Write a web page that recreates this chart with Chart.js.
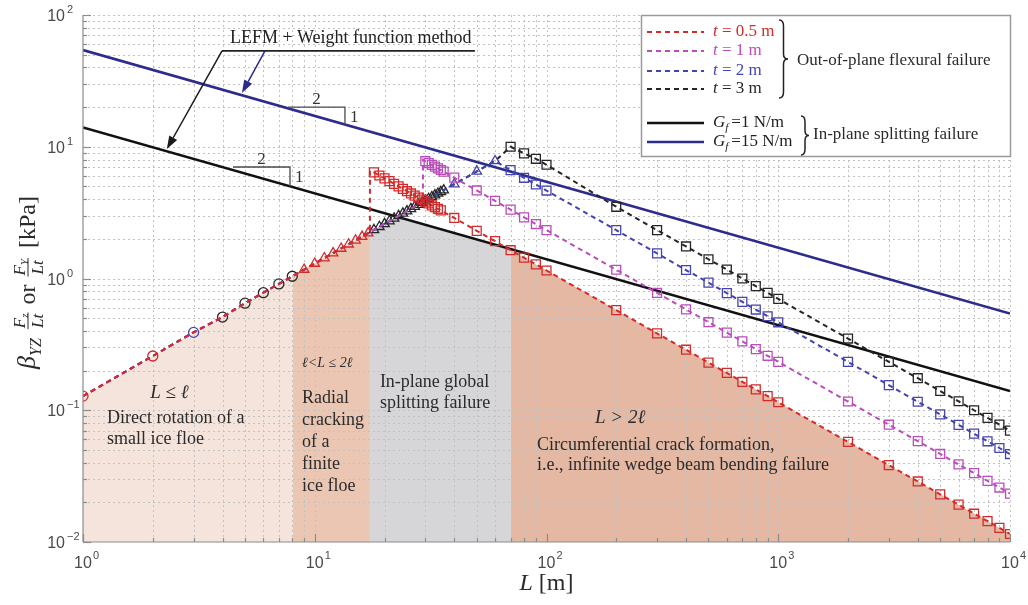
<!DOCTYPE html>
<html>
<head>
<meta charset="utf-8">
<script src="https://cdn.jsdelivr.net/npm/chart.js@4.4.1/dist/chart.umd.min.js"></script>
<style>
  html, body { margin: 0; padding: 0; background: #fff; }
  #wrap { width: 1028px; height: 605px; }
</style>
</head>
<body>
<div id="wrap"><canvas id="chart" width="1028" height="605"></canvas></div>
<script>
// --- AXES ---
const X_DECADES = [1, 10, 100, 1000, 10000];
const X_TICK_EXP = ['0', '1', '2', '3', '4'];
const Y_DECADES = [0.01, 0.1, 1, 10, 100];
const Y_TICK_EXP = ['\u22122', '\u22121', '0', '1', '2'];

// --- DATA ---
// rising branch shared by every thickness (L <= 2l)
const RISE_L = [1, 2, 3, 4, 5, 6, 7, 8, 9, 10, 11, 12, 13, 14, 15, 16, 17, 17.3,
  18, 19, 20, 21, 22, 23, 24, 25, 26, 27, 28, 29, 29.3, 30, 31, 32, 33, 34, 35, 36, 40, 50, 60];
const RISE_V = [0.128, 0.258, 0.39, 0.51, 0.65, 0.78, 0.91, 1.04, 1.17, 1.3, 1.43, 1.56, 1.69, 1.82, 1.95, 2.08, 2.21, 2.25,
  2.34, 2.47, 2.6, 2.73, 2.86, 2.99, 3.12, 3.25, 3.38, 3.51, 3.64, 3.77, 3.81, 3.9, 4.03, 4.16, 4.29, 4.42, 4.55, 4.68, 5.2, 6.5, 7.8];

// falling branches (out-of-plane flexural failure)
const RED_FALL_L = [17.3, 18, 19, 20, 21, 22, 23, 24, 25, 26, 27, 28, 29, 30, 31, 32, 33, 34, 35,
  40, 50, 60, 70, 80, 90, 100, 200, 300, 400, 500, 600, 700, 800, 900, 1000,
  2000, 3000, 4000, 5000, 6000, 7000, 8000, 9000, 10000];
const RED_FALL_V = [6.6, 6.39, 6.05, 5.75, 5.48, 5.23, 5.0, 4.79, 4.6, 4.42, 4.26, 4.11, 3.97, 3.83, 3.71, 3.59, 3.48, 3.38, 3.29,
  2.88, 2.3, 1.92, 1.64, 1.44, 1.28, 1.15, 0.575, 0.383, 0.288, 0.23, 0.192, 0.164, 0.144, 0.128, 0.115,
  0.0575, 0.0383, 0.0288, 0.023, 0.0192, 0.0164, 0.0144, 0.0128, 0.0115];

const MAG_FALL_L = [29.3, 30, 31, 32, 33, 34, 35, 36, 40, 50, 60, 70, 80, 90, 100,
  200, 300, 400, 500, 600, 700, 800, 900, 1000, 2000, 3000, 4000, 5000, 6000, 7000, 8000, 9000, 10000];
const MAG_FALL_V = [7.95, 7.77, 7.52, 7.28, 7.06, 6.85, 6.66, 6.47, 5.83, 4.66, 3.88, 3.33, 2.91, 2.59, 2.33,
  1.165, 0.777, 0.583, 0.466, 0.388, 0.333, 0.291, 0.259, 0.233, 0.1165, 0.0777, 0.0583, 0.0466, 0.0388, 0.0333, 0.0291, 0.0259, 0.0233];

const BLUE_FALL_L = [70, 80, 90, 100, 200, 300, 400, 500, 600, 700, 800, 900, 1000,
  2000, 3000, 4000, 5000, 6000, 7000, 8000, 9000, 10000];
const BLUE_FALL_V = [6.64, 5.81, 5.17, 4.65, 2.33, 1.55, 1.16, 0.93, 0.775, 0.664, 0.581, 0.517, 0.465,
  0.233, 0.155, 0.116, 0.093, 0.0775, 0.0664, 0.0581, 0.0517, 0.0465];

const BLACK_FALL_L = [70, 80, 90, 100, 200, 300, 400, 500, 600, 700, 800, 900, 1000,
  2000, 3000, 4000, 5000, 6000, 7000, 8000, 9000, 10000];
const BLACK_FALL_V = [10.0, 8.9, 8.1, 7.3, 3.5, 2.33, 1.75, 1.4, 1.17, 1.0, 0.875, 0.778, 0.7,
  0.35, 0.233, 0.175, 0.14, 0.117, 0.1, 0.0875, 0.0778, 0.07];

// in-plane splitting failure (LEFM + weight function), slope -1/2
const GF1_L = [1, 10000];
const GF1_V = [14.0, 0.14];
const GF15_L = [1, 10000];
const GF15_V = [54.2, 0.542];

// shaded failure-mode zones (upper boundary)
const ZONE_A_L = [1, 8.06];
const ZONE_A_V = [0.128, 1.05];
const ZONE_B_L = [8.06, 17.3];
const ZONE_B_V = [1.05, 2.25];
const ZONE_C_L = [17.3, 22.7, 70.3];
const ZONE_C_V = [2.25, 2.94, 1.67];
const ZONE_D_L = [70.3, 10000];
const ZONE_D_V = [1.64, 0.0115];

// --- STYLE ---
const SERIF = '"Liberation Serif", "Times New Roman", serif';
const SANS = '"Liberation Sans", Arial, sans-serif';
const C_RED = '#d32a2a', C_MAG = '#bb4cbb', C_BLUE = '#4444b0', C_BLACK = '#262626';
const C_GF1 = '#111111', C_GF15 = '#2c2c8c';
const MARK_R = { circle: 5, triangle: 5.5, rect: 6.3 };

const SERIES = [
  { color: C_RED, riseTo: 17.3, fallL: RED_FALL_L, fallV: RED_FALL_V, order: 1,
    rise: [['circle', 1, 2], ['triangle', 9, 17]], fall: [['rect', 18, 1e4]] },
  { color: C_MAG, riseTo: 29.3, fallL: MAG_FALL_L, fallV: MAG_FALL_V, order: 2,
    rise: [], fall: [['rect', 30, 1e4]] },
  { color: C_BLUE, riseTo: 60, fallL: BLUE_FALL_L, fallV: BLUE_FALL_V, order: 3,
    rise: [['circle', 3, 3], ['triangle', 40, 60]], fall: [['rect', 70, 1e4]] },
  { color: C_BLACK, riseTo: 60, fallL: BLACK_FALL_L, fallV: BLACK_FALL_V, order: 4,
    rise: [['circle', 4, 8], ['triangle', 18, 36]], fall: [['rect', 70, 1e4]] }
];

// annotation anchors, in data units (L, value)
const NOTE = {
  lefmText: [14.3, 66.8],
  lefmRule: [3.98, 49.1, 53.4],
  arrowBlack: [3.98, 53.4, 2.3, 9.6],
  arrowBlue: [6.1, 53.4, 4.85, 25.6],
  slopeBlue: [7.67, 13.5, 20.0, 14.6],
  slopeBlack: [4.44, 7.82, 7.02, 5.0]
};
const REGION_TEXT = [
  { at: [1.95, 0.135], lines: ['L \u2264 \u2113'], italic: true, size: 19 },
  { at: [1.27, 0.0873], lines: ['Direct rotation of a', 'small ice floe'], size: 18, lh: 21 },
  { at: [8.81, 0.2286], lines: ['\u2113<L \u2264 2\u2113'], italic: true, size: 14 },
  { at: [8.81, 0.124], lines: ['Radial', 'cracking', 'of a', 'finite', 'ice floe'], size: 18, lh: 22 },
  { at: [19.1, 0.164], lines: ['In-plane global', 'splitting failure'], size: 18, lh: 21 },
  { at: [162, 0.0873], lines: ['L > 2\u2113'], italic: true, size: 19 },
  { at: [91, 0.0545], lines: ['Circumferential crack formation,', 'i.e., infinite wedge beam bending failure'], size: 18, lh: 20 }
];

// --- BUILD DATASETS ---
function pick(ranges, L) {
  for (const [m, a, b] of ranges) if (L >= a && L <= b) return m;
  return null;
}
function zip(xs, ys) { return xs.map((x, i) => ({ x, y: ys[i] })); }

function seriesData(s) {
  const pts = [];
  RISE_L.forEach((L, i) => { if (L <= s.riseTo) pts.push({ x: L, y: RISE_V[i], m: pick(s.rise, L) }); });
  s.fallL.forEach((L, i) => pts.push({ x: L, y: s.fallV[i], m: pick(s.fall, L) }));
  return pts;
}

function zone(xs, ys, color) {
  return { data: zip(xs, ys), showLine: true, fill: 'start', backgroundColor: color,
    borderWidth: 0, pointRadius: 0, order: 10 };
}

const datasets = [
  zone(ZONE_A_L, ZONE_A_V, '#f5e4dc'),
  zone(ZONE_B_L, ZONE_B_V, '#ebc7b3'),
  zone(ZONE_C_L, ZONE_C_V, '#d6d6d9'),
  zone(ZONE_D_L, ZONE_D_V, '#e4b8a3'),
  { data: zip(GF1_L, GF1_V), showLine: true, borderColor: C_GF1, borderWidth: 2.6, pointRadius: 0, order: 5 },
  { data: zip(GF15_L, GF15_V), showLine: true, borderColor: C_GF15, borderWidth: 2.6, pointRadius: 0, order: 5 }
];
SERIES.forEach(s => {
  datasets.push({
    data: seriesData(s),
    showLine: true,
    borderColor: s.color,
    borderWidth: 2,
    borderDash: [5, 4],
    pointStyle: ctx => (ctx.raw && ctx.raw.m) || 'circle',
    pointRadius: ctx => (ctx.raw && ctx.raw.m) ? MARK_R[ctx.raw.m] : 0,
    pointBorderColor: s.color,
    pointBackgroundColor: 'rgba(0,0,0,0)',
    pointBorderWidth: 1.3,
    order: s.order
  });
});

// --- DRAWING HELPERS ---
function seg(ctx, x0, y0, x1, y1) { ctx.beginPath(); ctx.moveTo(x0, y0); ctx.lineTo(x1, y1); ctx.stroke(); }

function drawGrid(chart) {
  const { ctx, chartArea: a, scales: { x, y } } = chart;
  ctx.save();
  ctx.strokeStyle = '#c2c2c2';
  ctx.lineWidth = 1;
  ctx.setLineDash([2, 3]);
  X_DECADES.forEach((d, i) => {
    for (let k = 1; k <= 9; k++) {
      if (i === X_DECADES.length - 1 && k > 1) break;
      const px = Math.round(x.getPixelForValue(d * k)) + 0.5;
      if (px <= a.left + 1) continue;
      seg(ctx, px, a.top, px, a.bottom);
    }
  });
  Y_DECADES.forEach((d, i) => {
    for (let k = 1; k <= 9; k++) {
      if (i === Y_DECADES.length - 1 && k > 1) break;
      const py = Math.round(y.getPixelForValue(d * k)) + 0.5;
      if (py >= a.bottom - 1) continue;
      seg(ctx, a.left, py, a.right, py);
    }
  });
  ctx.restore();
}

function drawAxes(chart) {
  const { ctx, chartArea: a, scales: { x, y } } = chart;
  ctx.save();
  ctx.strokeStyle = '#8c8c8c';
  ctx.lineWidth = 1.2;
  seg(ctx, a.left, a.top, a.left, a.bottom);
  seg(ctx, a.left, a.bottom, a.right, a.bottom);
  X_DECADES.forEach((d, i) => {
    for (let k = 1; k <= 9; k++) {
      if (i === X_DECADES.length - 1 && k > 1) break;
      const px = Math.round(x.getPixelForValue(d * k)) + 0.5;
      seg(ctx, px, a.bottom, px, a.bottom - (k === 1 ? 8 : 4));
    }
  });
  Y_DECADES.forEach((d, i) => {
    for (let k = 1; k <= 9; k++) {
      if (i === Y_DECADES.length - 1 && k > 1) break;
      const py = Math.round(y.getPixelForValue(d * k)) + 0.5;
      seg(ctx, a.left, py, a.left + (k === 1 ? 8 : 4), py);
    }
  });
  // tick labels 10^n
  ctx.fillStyle = '#4a4a4a';
  ctx.textBaseline = 'alphabetic';
  X_DECADES.forEach((d, i) => {
    const px = x.getPixelForValue(d);
    ctx.font = `16px ${SANS}`;
    ctx.textAlign = 'center';
    ctx.fillText('10', px, a.bottom + 26);
    const w = ctx.measureText('10').width;
    ctx.font = `11px ${SANS}`;
    ctx.textAlign = 'left';
    ctx.fillText(X_TICK_EXP[i], px + w / 2 + 1, a.bottom + 17);
  });
  Y_DECADES.forEach((d, i) => {
    const py = y.getPixelForValue(d);
    ctx.font = `16px ${SANS}`;
    ctx.textAlign = 'right';
    ctx.fillText('10', a.left - 18, py + 6);
    ctx.font = `11px ${SANS}`;
    ctx.textAlign = 'left';
    ctx.fillText(Y_TICK_EXP[i], a.left - 16, py - 2);
  });
  ctx.restore();
}

function arrow(ctx, x0, y0, x1, y1, color) {
  const ang = Math.atan2(y1 - y0, x1 - x0), hl = 13, hw = 4.5;
  const bx = x1 - hl * Math.cos(ang), by = y1 - hl * Math.sin(ang);
  ctx.strokeStyle = color;
  ctx.fillStyle = color;
  ctx.lineWidth = 1.5;
  seg(ctx, x0, y0, bx, by);
  ctx.beginPath();
  ctx.moveTo(x1, y1);
  ctx.lineTo(bx + hw * Math.sin(ang), by - hw * Math.cos(ang));
  ctx.lineTo(bx - hw * Math.sin(ang), by + hw * Math.cos(ang));
  ctx.closePath();
  ctx.fill();
}

function slope(ctx, x, y, s) {
  const [L1, L2, vTop, vBot] = s;
  const x1 = x.getPixelForValue(L1), x2 = x.getPixelForValue(L2);
  const yt = y.getPixelForValue(vTop), yb = y.getPixelForValue(vBot);
  ctx.strokeStyle = '#4a4a4a';
  ctx.lineWidth = 1.3;
  ctx.beginPath(); ctx.moveTo(x1, yt); ctx.lineTo(x2, yt); ctx.lineTo(x2, yb); ctx.stroke();
  ctx.fillStyle = '#333';
  ctx.font = `17px ${SERIF}`;
  ctx.textAlign = 'center';
  ctx.textBaseline = 'alphabetic';
  ctx.fillText('2', (x1 + x2) / 2, yt - 3);
  ctx.textAlign = 'left';
  ctx.textBaseline = 'middle';
  ctx.fillText('1', x2 + 5, (yt + yb) / 2 + 1);
}

function drawNotes(chart) {
  const { ctx, scales: { x, y } } = chart;
  const X = v => x.getPixelForValue(v), Y = v => y.getPixelForValue(v);
  ctx.save();
  // region labels
  ctx.fillStyle = '#2b2b2b';
  ctx.textBaseline = 'middle';
  ctx.textAlign = 'left';
  REGION_TEXT.forEach(r => {
    ctx.font = `${r.italic ? 'italic ' : ''}${r.size}px ${SERIF}`;
    r.lines.forEach((t, i) => ctx.fillText(t, X(r.at[0]), Y(r.at[1]) + i * (r.lh || 0)));
  });
  // LEFM label, rule and arrows
  ctx.font = `18px ${SERIF}`;
  ctx.textAlign = 'center';
  ctx.fillStyle = '#222';
  ctx.fillText('LEFM + Weight function method', X(NOTE.lefmText[0]), Y(NOTE.lefmText[1]));
  ctx.strokeStyle = '#222';
  ctx.lineWidth = 1.6;
  const [r0, r1, rv] = NOTE.lefmRule;
  seg(ctx, X(r0), Y(rv), X(r1), Y(rv));
  const ab = NOTE.arrowBlack, au = NOTE.arrowBlue;
  arrow(ctx, X(ab[0]), Y(ab[1]), X(ab[2]), Y(ab[3]), '#1a1a1a');
  arrow(ctx, X(au[0]), Y(au[1]), X(au[2]), Y(au[3]), C_GF15);
  slope(ctx, x, y, NOTE.slopeBlue);
  slope(ctx, x, y, NOTE.slopeBlack);
  ctx.restore();
}

function brace(ctx, x, y0, y1, w) {
  const ym = (y0 + y1) / 2, h = w / 2;
  ctx.beginPath();
  ctx.moveTo(x, y0);
  ctx.quadraticCurveTo(x + h, y0, x + h, y0 + 6);
  ctx.lineTo(x + h, ym - 5);
  ctx.quadraticCurveTo(x + h, ym, x + w, ym);
  ctx.quadraticCurveTo(x + h, ym, x + h, ym + 5);
  ctx.lineTo(x + h, y1 - 6);
  ctx.quadraticCurveTo(x + h, y1, x, y1);
  ctx.stroke();
}

function drawLegend(chart) {
  const { ctx, chartArea: a } = chart;
  const bw = 370, bh = 142;
  const bx = a.right - bw + 1, by = a.top;
  ctx.save();
  ctx.fillStyle = '#fff';
  ctx.fillRect(bx, by, bw, bh);
  ctx.strokeStyle = '#9a9a9a';
  ctx.lineWidth = 1.5;
  ctx.strokeRect(bx + 0.5, by + 0.5, bw - 1, bh - 1);

  const rows = [
    { y: 17, color: C_RED, val: '0.5 m' },
    { y: 36, color: C_MAG, val: '1 m' },
    { y: 56, color: C_BLUE, val: '2 m' },
    { y: 74, color: C_BLACK, val: '3 m' }
  ];
  ctx.textBaseline = 'middle';
  ctx.textAlign = 'left';
  rows.forEach(r => {
    ctx.strokeStyle = r.color;
    ctx.lineWidth = 2;
    ctx.setLineDash([5, 4]);
    seg(ctx, bx + 6, by + r.y, bx + 63, by + r.y);
    ctx.setLineDash([]);
    ctx.fillStyle = r.color;
    ctx.font = `italic 17px ${SERIF}`;
    ctx.fillText('t', bx + 72, by + r.y);
    const tw = ctx.measureText('t').width;
    ctx.font = `17px ${SERIF}`;
    ctx.fillText(' = ' + r.val, bx + 72 + tw, by + r.y);
  });
  const grows = [
    { y: 108, color: C_GF1, val: '1 N/m' },
    { y: 127, color: C_GF15, val: '15 N/m' }
  ];
  grows.forEach(r => {
    ctx.strokeStyle = r.color;
    ctx.lineWidth = 2.6;
    seg(ctx, bx + 6, by + r.y, bx + 63, by + r.y);
    ctx.fillStyle = '#222';
    ctx.font = `italic 17px ${SERIF}`;
    ctx.fillText('G', bx + 72, by + r.y);
    let cx = bx + 72 + ctx.measureText('G').width;
    ctx.font = `italic 11px ${SERIF}`;
    ctx.fillText('f', cx, by + r.y + 5);
    cx += ctx.measureText('f').width + 3;
    ctx.font = `17px ${SERIF}`;
    ctx.fillText('=' + r.val, cx, by + r.y);
  });
  ctx.strokeStyle = '#222';
  ctx.lineWidth = 1.5;
  brace(ctx, bx + 138, by + 5, by + 83, 9);
  brace(ctx, bx + 160, by + 101, by + 140, 8);
  ctx.fillStyle = '#2b2b2b';
  ctx.font = `17px ${SERIF}`;
  ctx.fillText('Out-of-plane flexural failure', bx + 156, by + 46);
  ctx.fillText('In-plane splitting failure', bx + 172, by + 120);
  ctx.restore();
}

function drawTitles(chart) {
  const { ctx, chartArea: a } = chart;
  ctx.save();
  ctx.fillStyle = '#2b2b2b';
  // x title: L [m]
  ctx.textBaseline = 'alphabetic';
  ctx.textAlign = 'left';
  ctx.font = `italic 24px ${SERIF}`;
  const wL = ctx.measureText('L').width;
  ctx.font = `24px ${SERIF}`;
  const wR = ctx.measureText(' [m]').width;
  const cx = (a.left + a.right) / 2 - (wL + wR) / 2;
  ctx.font = `italic 24px ${SERIF}`;
  ctx.fillText('L', cx, a.bottom + 48);
  ctx.font = `24px ${SERIF}`;
  ctx.fillText(' [m]', cx + wL, a.bottom + 48);

  // y title: beta_YZ Fz/Lt or FY/Lt [kPa], rotated
  const runs = [
    { t: '\u03b2', f: `italic 26px ${SERIF}`, dy: 0 },
    { t: 'YZ', f: `italic 16px ${SERIF}`, dy: 6 },
    { gap: 9 },
    { frac: 'z' },
    { gap: 8 },
    { t: 'or', f: `24px ${SERIF}`, dy: 0 },
    { gap: 8 },
    { frac: 'Y' },
    { gap: 10 },
    { t: '[kPa]', f: `24px ${SERIF}`, dy: 0 }
  ];
  const FN = `italic 17px ${SERIF}`, FS = `italic 11px ${SERIF}`;
  const fracParts = sub => {
    ctx.font = FN;
    const wf = ctx.measureText('F').width, wlt = ctx.measureText('Lt').width;
    ctx.font = FS;
    const ws = ctx.measureText(sub).width;
    return { wf, wlt, ws, w: Math.max(wf + ws, wlt) + 2 };
  };
  const width = r => {
    if (r.gap) return r.gap;
    if (r.frac) return fracParts(r.frac).w;
    ctx.font = r.f;
    return ctx.measureText(r.t).width;
  };
  const total = runs.reduce((s, r) => s + width(r), 0);
  ctx.translate(28, (a.top + a.bottom) / 2 + 4);
  ctx.rotate(-Math.PI / 2);
  let px = -total / 2;
  const base = 7;
  runs.forEach(r => {
    const w = width(r);
    if (r.frac) {
      const p = fracParts(r.frac);
      const nx = px + (w - p.wf - p.ws) / 2;
      ctx.font = FN;
      ctx.fillText('F', nx, base - 10);
      ctx.font = FS;
      ctx.fillText(r.frac, nx + p.wf, base - 7);
      ctx.strokeStyle = '#2b2b2b';
      ctx.lineWidth = 1;
      seg(ctx, px, base - 7, px + w, base - 7);
      ctx.font = FN;
      ctx.fillText('Lt', px + (w - p.wlt) / 2, base + 8);
    } else if (r.t) {
      ctx.font = r.f;
      ctx.fillText(r.t, px, base + r.dy);
    }
    px += w;
  });
  ctx.restore();
}

const figurePlugin = {
  id: 'figure',
  beforeDatasetsDraw(chart) { drawGrid(chart); },
  afterDatasetsDraw(chart) {
    drawAxes(chart);
    drawNotes(chart);
    drawLegend(chart);
    drawTitles(chart);
  }
};

new Chart(document.getElementById('chart'), {
  type: 'scatter',
  data: { datasets },
  options: {
    responsive: false,
    animation: false,
    events: [],
    layout: { padding: { left: 83, right: 18, top: 15, bottom: 63 } },
    scales: {
      x: { type: 'logarithmic', min: 1, max: 10000, display: false },
      y: { type: 'logarithmic', min: 0.01, max: 100, display: false }
    },
    plugins: {
      legend: { display: false },
      tooltip: { enabled: false },
      filler: { drawTime: 'beforeDatasetsDraw' }
    }
  },
  plugins: [figurePlugin]
});
</script>
</body>
</html>
